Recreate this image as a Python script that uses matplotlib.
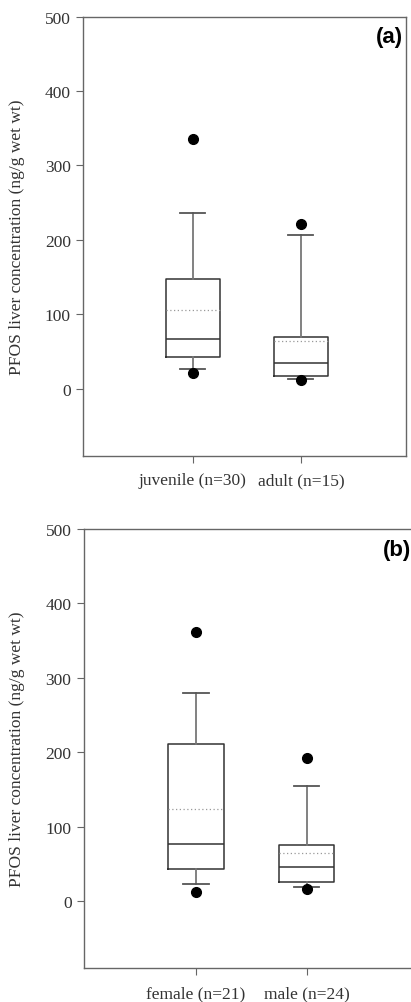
import matplotlib as mpl
mpl.use('Agg')
import matplotlib.pyplot as plt

# panel (a): age groups
labels_a = ['juvenile (n=30)', 'adult (n=15)']
q1_a = [43, 17]
med_a = [67, 34]
q3_a = [148, 69.5]
mean_a = [106, 64]
whislo_a = [27, 12.5]
whishi_a = [236, 206]
fliers_a = [[336, 21.5], [222, 11.5]]

# panel (b): sex
labels_b = ['female (n=21)', 'male (n=24)']
q1_b = [43, 26]
med_b = [77, 46]
q3_b = [211, 75]
mean_b = [123.5, 65]
whislo_b = [23, 19]
whishi_b = [280, 155]
fliers_b = [[362, 12.5], [192, 17]]

ylab = 'PFOS liver concentration (ng/g wet wt)'
serif = 'Liberation Serif'


def make_stats(labels, q1, med, q3, mean, lo, hi, fl):
    stats = []
    for i in range(len(labels)):
        stats.append(dict(label=labels[i], q1=q1[i], med=med[i], q3=q3[i],
                          mean=mean[i], whislo=lo[i], whishi=hi[i], fliers=fl[i]))
    return stats


def draw_panel(ax, stats, tag, labx):
    ax.bxp(stats, positions=[1, 2], widths=0.5, capwidths=0.23,
           showmeans=True, meanline=True,
           boxprops=dict(color='#333333', linewidth=1.1),
           medianprops=dict(color='#333333', linewidth=1.1),
           whiskerprops=dict(color='#777777', linewidth=1.3),
           capprops=dict(color='#555555', linewidth=1.3),
           meanprops=dict(color='#999999', linestyle=(0, (1, 2)), linewidth=0.9),
           flierprops=dict(marker='o', markerfacecolor='black',
                           markeredgecolor='black', markersize=7))
    ax.set_ylim(-90, 500)
    ax.set_xlim(-0.01, 2.97)
    ax.set_yticks([0, 100, 200, 300, 400, 500])
    for s in ax.spines.values():
        s.set_color('#666666')
        s.set_linewidth(1.0)
    ax.tick_params(direction='out', length=5, color='#666666', labelcolor='#333333',
                   labelsize=12.5, pad=4)
    ax.tick_params(axis='x', pad=7)
    for t in ax.get_xticklabels() + ax.get_yticklabels():
        t.set_fontfamily(serif)
    ax.set_ylabel(ylab, fontfamily=serif, fontsize=12.5, color='#333333')
    ax.yaxis.set_label_coords(labx, 0.5)
    ax.text(0.99, 0.978, tag, transform=ax.transAxes, ha='right', va='top',
            fontsize=16, fontweight='bold', fontfamily='Liberation Sans')


fig = plt.figure(figsize=(4.11, 10.03), dpi=100)
ax1 = fig.add_axes([0.2027, 0.5447, 0.785, 0.4377])
ax2 = fig.add_axes([0.2044, 0.0336, 0.803, 0.438])

draw_panel(ax1, make_stats(labels_a, q1_a, med_a, q3_a, mean_a, whislo_a, whishi_a, fliers_a), '(a)', -0.18)
draw_panel(ax2, make_stats(labels_b, q1_b, med_b, q3_b, mean_b, whislo_b, whishi_b, fliers_b), '(b)', -0.178)

fig.savefig('out.png', dpi=100)
